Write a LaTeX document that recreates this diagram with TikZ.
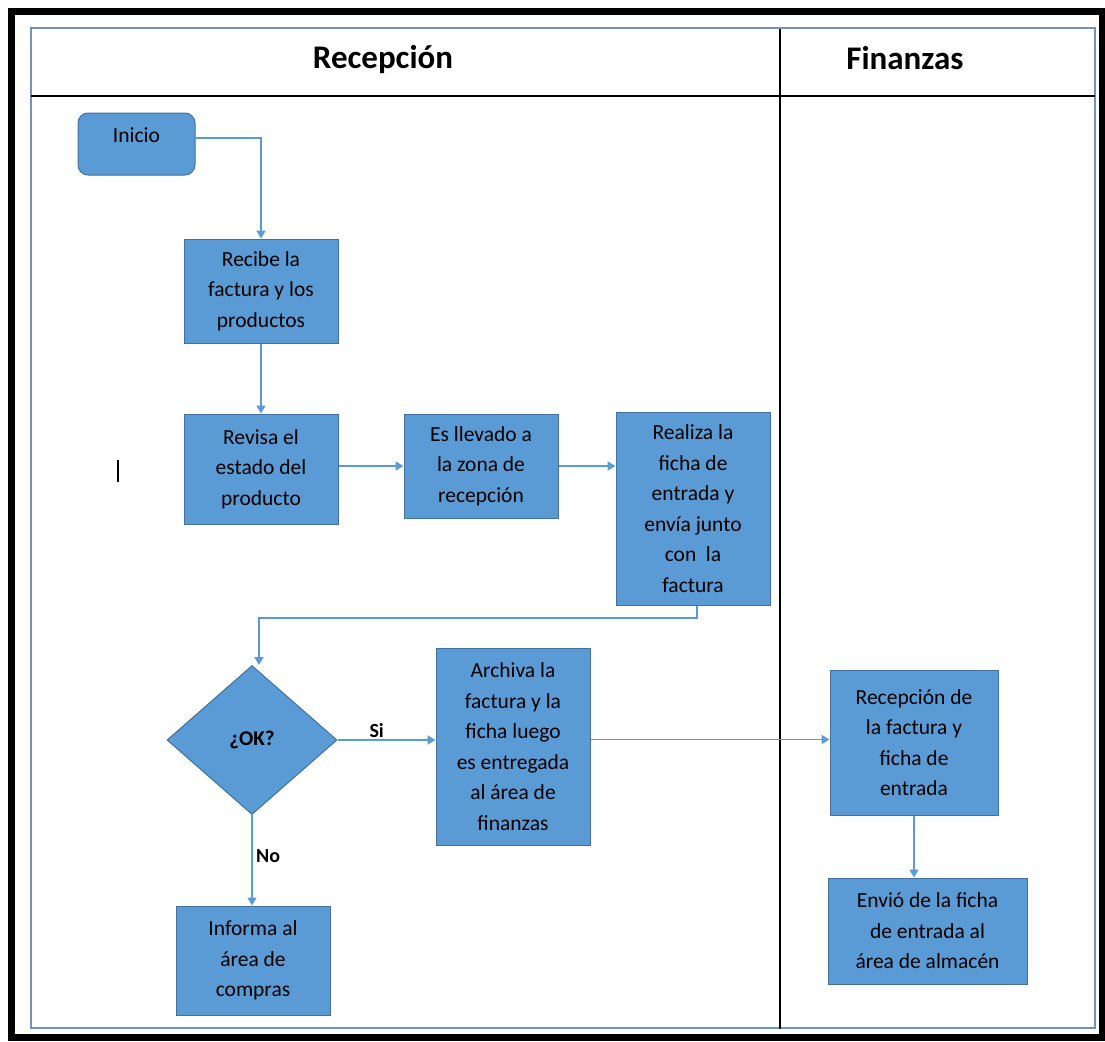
\documentclass[tikz,border=0pt]{standalone}
\usepackage{fontspec}
\setmainfont{Carlito}
\usepackage{tikz}
\usetikzlibrary{shapes,shapes.geometric,arrows,arrows.meta}

\definecolor{boxBlue}{HTML}{5B9BD5}
\definecolor{boxEdge}{HTML}{41719C}
\definecolor{lineBlue}{HTML}{5B9BD5}
\definecolor{frameBlue}{HTML}{6E93C4}

\begin{document}
\begin{tikzpicture}[x=1pt,y=-1pt]
		\useasboundingbox (0,0) rectangle (1105,1041);
		\fill[white] (0,0) rectangle (1105,1041);

		% frames and lanes
		\draw[black, line width=7pt] (11,12) rectangle (1102,1037);
		\draw[frameBlue, line width=2pt] (31,28) rectangle (1095,1028);
		\draw[black, line width=1.6pt] (31,96) -- (1095,96);
		\draw[black, line width=1.3pt] (780,29) -- (780,1029);
		\draw[black, line width=1.2pt] (118,460) -- (118,482);

		\begin{scope}
			[
				styleLane/.style={font=\fontsize{33}{38}\selectfont\bfseries},
				styleStart/.style={
					draw=boxEdge, fill=boxBlue, rounded corners=10pt,
					line width=1pt, minimum width=117pt, minimum height=62pt,
					text depth=18pt, font=\fontsize{21.5}{30}\selectfont
					},
				styleStep/.style={
					draw=boxEdge, fill=boxBlue, line width=1pt,
					align=center, inner sep=2pt,
					font=\fontsize{21.5}{30.5}\selectfont
					},
				styleAsk/.style={
					draw=boxEdge, fill=boxBlue, diamond, line width=1pt,
					minimum width=170pt, minimum height=149pt,
					font=\fontsize{21}{24}\selectfont\bfseries
					},
			]
			\node(lRecep)[styleLane] at (383,60) {Recepción};
			\node(lFinan)[styleLane] at (905,58) {Finanzas};

			\node(inicio)[styleStart] at (136.5,144) {Inicio};
			\node(recibe)[styleStep, minimum width=154pt, minimum height=104pt] at (261,291)
				{Recibe la\\factura y los\\productos};
			\node(revisa)[styleStep, minimum width=154pt, minimum height=110pt] at (261,469)
				{Revisa el\\estado del\\producto};
			\node(llevado)[styleStep, minimum width=154pt, minimum height=104pt] at (481,466)
				{Es llevado a\\la zona de\\recepción};
			\node(realiza)[styleStep, minimum width=154pt, minimum height=193pt] at (693,508.5)
				{Realiza la\\ficha de\\entrada y\\envía junto\\con\ \ la\\factura};

			\node(ok)[styleAsk] at (252,740) {¿OK?};
			\node(archiva)[styleStep, minimum width=154pt, minimum height=197pt] at (513,746.5)
				{Archiva la\\factura y la\\ficha luego\\es entregada\\al área de\\finanzas};
			\node(informa)[styleStep, minimum width=154pt, minimum height=109pt] at (253,960.5)
				{Informa al\\área de\\compras};

			\node(recep)[styleStep, minimum width=168pt, minimum height=145pt] at (914,742.5)
				{Recepción de\\la factura y\\ficha de\\entrada};
			\node(envio)[styleStep, minimum width=199pt, minimum height=106pt] at (927.5,931)
				{Envió de la ficha\\de entrada al\\área de almacén};

			\coordinate(back) at (697,618);
		\end{scope}

		\begin{scope}
			[ flow/.style = {draw=lineBlue, line width=1.8pt,
				-{Triangle[width=9pt,length=8pt]}},
				answer/.style = {font=\fontsize{20}{24}\selectfont\bfseries}]
			\path[flow] ([yshift=6pt]inicio.east) -| (recibe.north);
			\path[flow] (recibe.south) -- (revisa.north);
			\path[flow] (revisa.east |- llevado) -- (llevado.west);
			\path[flow] (llevado.east) -- (llevado.east -| realiza.west);
			\path[flow] (realiza.south -| back) -- (back) -| ([xshift=7pt]ok.north);
			\path[flow] (ok.east) -- node[answer, above, pos=0.4, inner sep=1pt]{Si} (ok.east -| archiva.west);
			\path[flow] ([yshift=3pt]archiva.east |- recep) -- ([yshift=3pt]recep.west);
			\path[flow] (ok.south) -- node[answer, right, pos=0.45]{No} (ok.south |- informa.north);
			\path[flow] (recep.south) -- (recep.south |- envio.north);
		\end{scope}
	\end{tikzpicture}
\end{document}
